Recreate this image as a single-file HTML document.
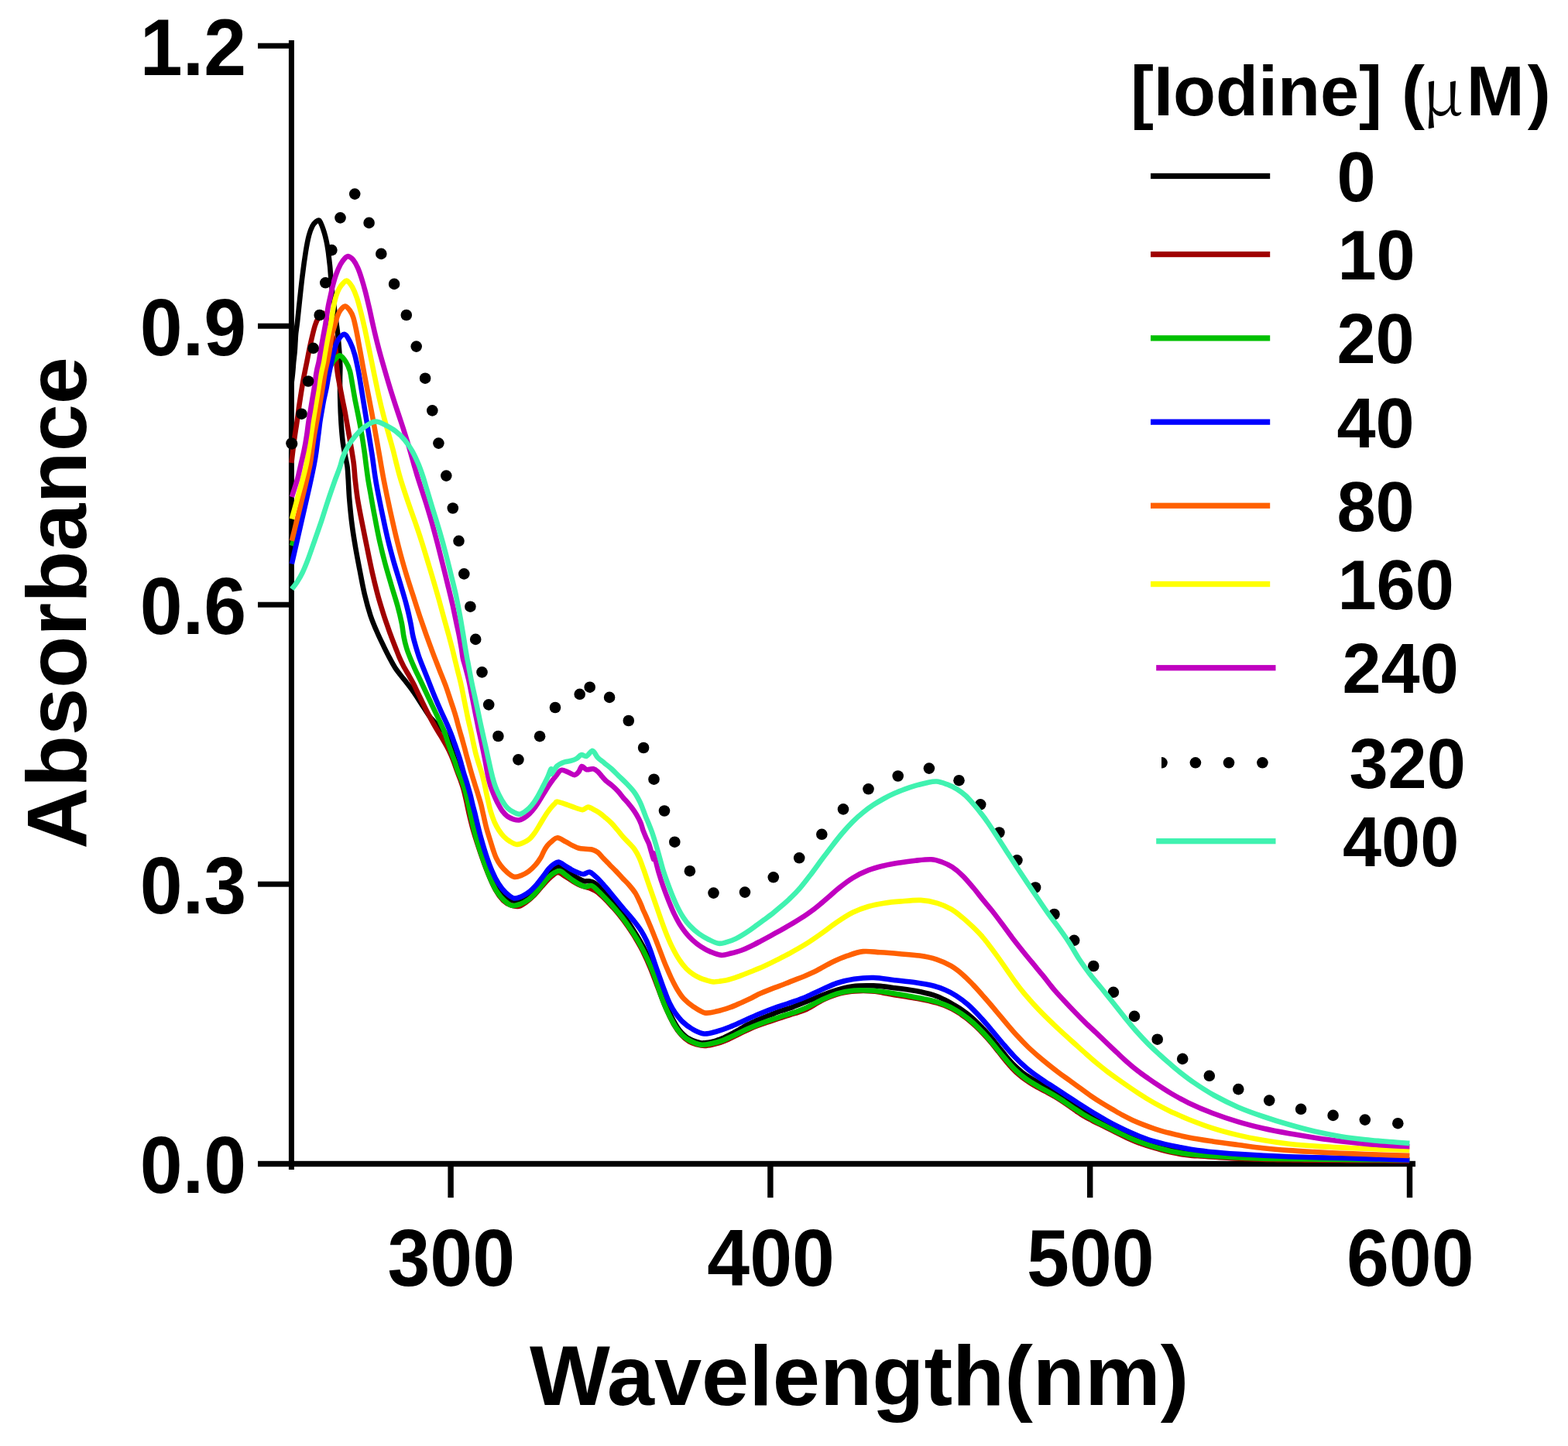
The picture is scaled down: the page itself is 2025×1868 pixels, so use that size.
<!DOCTYPE html>
<html><head><meta charset="utf-8"><style>
html,body{margin:0;padding:0;background:#fff;}
svg{display:block;}
text{font-family:"Liberation Sans",Arial,sans-serif;font-weight:bold;fill:#000;}
</style></head><body>
<svg width="2025" height="1868" viewBox="0 0 2025 1868" xmlns="http://www.w3.org/2000/svg">
<rect width="2025" height="1868" fill="#fff"/>
<g fill="#000"><rect x="372.9" y="52" width="7" height="1459"/><rect x="333" y="1499.8" width="1495" height="7.4"/><rect x="333" y="55.7" width="44" height="7"/><rect x="333" y="417.7" width="44" height="7"/><rect x="333" y="777.7" width="44" height="7"/><rect x="333" y="1138.7" width="44" height="7"/><rect x="333" y="1500.0" width="44" height="7"/><rect x="578.4" y="1500" width="7.4" height="47.2"/><rect x="991.2" y="1500" width="7.4" height="47.2"/><rect x="1404.0" y="1500" width="7.4" height="47.2"/><rect x="1816.8" y="1500" width="7.4" height="47.2"/></g>
<g font-size="103.3"><text transform="translate(318.0 96.5) scale(0.955 1)" text-anchor="end">1.2</text><text transform="translate(318.0 458.5) scale(0.955 1)" text-anchor="end">0.9</text><text transform="translate(318.0 818.5) scale(0.955 1)" text-anchor="end">0.6</text><text transform="translate(318.0 1179.5) scale(0.955 1)" text-anchor="end">0.3</text><text transform="translate(318.0 1540.8) scale(0.955 1)" text-anchor="end">0.0</text><text transform="translate(582.8 1660.6) scale(0.955 1)" text-anchor="middle">300</text><text transform="translate(995.6 1660.6) scale(0.955 1)" text-anchor="middle">400</text><text transform="translate(1408.4 1660.6) scale(0.955 1)" text-anchor="middle">500</text><text transform="translate(1821.2 1660.6) scale(0.955 1)" text-anchor="middle">600</text></g>
<text x="111.2" y="1096.7" font-size="110" transform="rotate(-90 111.2 1096.7)">Absorbance</text>
<text x="684" y="1814.7" font-size="110">Wavelength(nm)</text>
<g fill="none" stroke-width="6.6" stroke-linejoin="round" stroke-linecap="butt"><path d="M376.5 495.0 C376.8 492.7 377.7 485.6 378.1 481.1 C378.6 476.5 378.8 472.3 379.2 467.7 C379.7 463.1 380.3 458.1 380.7 453.6 C381.1 449.0 381.2 444.6 381.5 440.6 C381.7 436.7 381.8 434.2 382.2 430.0 C382.7 425.8 383.3 422.3 384.1 415.6 C384.8 408.9 385.7 399.7 386.8 389.8 C387.9 379.8 389.2 366.7 390.6 355.8 C391.9 345.0 393.5 333.5 394.9 324.7 C396.3 315.9 397.7 308.8 399.2 303.3 C400.7 297.8 402.2 294.5 403.6 291.7 C405.1 288.9 406.7 287.6 408.1 286.4 C409.6 285.3 411.0 283.9 412.2 284.7 C413.4 285.5 414.4 288.4 415.5 291.0 C416.6 293.6 417.7 297.0 418.7 300.3 C419.7 303.7 420.7 307.6 421.5 311.2 C422.3 314.8 422.9 318.4 423.4 322.0 C424.0 325.6 424.4 329.0 424.8 332.8 C425.3 336.6 425.7 340.5 426.2 345.0 C426.6 349.5 426.8 353.5 427.4 359.9 C428.0 366.2 428.8 374.6 429.8 383.0 C430.8 391.5 432.4 402.5 433.5 410.5 C434.6 418.6 435.4 424.3 436.2 431.2 C437.0 438.2 437.6 445.4 438.1 452.4 C438.7 459.3 439.2 466.7 439.3 473.2 C439.4 479.6 439.0 483.8 439.0 491.1 C439.0 498.5 439.0 508.1 439.3 517.4 C439.5 526.7 440.0 538.2 440.6 547.2 C441.2 556.2 441.9 564.5 442.8 571.5 C443.7 578.6 445.0 584.2 446.0 589.5 C446.9 594.8 448.0 598.2 448.6 603.3 C449.2 608.4 449.3 613.1 449.8 620.1 C450.2 627.2 450.5 636.0 451.3 645.6 C452.1 655.2 453.2 667.4 454.6 677.8 C455.9 688.2 457.6 698.4 459.3 708.2 C461.0 718.1 462.8 727.1 464.7 737.0 C466.6 746.8 468.5 757.8 470.8 767.4 C473.1 777.1 475.7 786.6 478.4 794.9 C481.2 803.3 484.4 810.7 487.4 817.5 C490.3 824.3 493.4 830.3 496.0 835.8 C498.7 841.3 501.0 845.9 503.4 850.4 C505.7 854.8 507.9 858.8 510.2 862.5 C512.6 866.2 515.2 869.3 517.5 872.4 C519.9 875.6 522.4 878.4 524.6 881.2 C526.9 884.1 528.9 886.7 531.0 889.6 C533.2 892.6 535.1 895.3 537.5 898.9 C539.9 902.5 542.5 906.8 545.5 911.3 C548.4 915.8 551.7 921.5 555.0 925.8 C558.3 930.0 561.9 933.5 565.0 936.8 C568.1 940.0 571.2 941.7 573.8 945.2 C576.2 948.7 578.1 953.0 580.0 957.7 C581.9 962.5 583.3 968.6 585.0 973.6 C586.7 978.6 588.3 983.5 590.0 987.7 C591.7 991.9 593.3 994.6 595.0 998.9 C596.7 1003.2 598.3 1007.7 600.0 1013.7 C601.7 1019.6 603.3 1027.4 605.0 1034.6 C606.7 1041.8 608.3 1049.7 610.0 1056.7 C611.7 1063.7 613.3 1070.5 615.0 1076.6 C616.7 1082.6 618.3 1088.0 620.0 1093.2 C621.7 1098.4 623.3 1103.1 625.0 1107.8 C626.7 1112.5 628.3 1117.0 630.0 1121.2 C631.7 1125.4 633.3 1129.5 635.0 1133.2 C636.7 1136.9 638.3 1140.4 640.0 1143.4 C641.7 1146.5 643.3 1149.1 645.0 1151.4 C646.7 1153.7 648.3 1155.6 650.0 1157.2 C651.7 1158.7 653.3 1159.8 655.0 1160.8 C656.7 1161.7 658.3 1162.3 660.0 1162.8 C661.7 1163.3 663.3 1163.6 665.0 1163.7 C666.7 1163.7 668.3 1163.4 670.0 1163.0 C671.7 1162.6 673.3 1162.0 675.0 1161.3 C676.7 1160.5 678.3 1159.6 680.0 1158.4 C681.7 1157.3 683.3 1156.1 685.0 1154.6 C686.7 1153.1 688.3 1151.5 690.0 1149.7 C691.7 1147.9 693.3 1145.9 695.0 1143.8 C696.7 1141.7 698.3 1139.5 700.0 1137.3 C701.7 1135.1 703.3 1132.8 705.0 1130.8 C706.7 1128.8 708.3 1126.7 710.0 1125.2 C711.7 1123.6 713.3 1122.4 715.0 1121.4 C716.7 1120.4 718.3 1119.3 720.0 1119.2 C721.7 1119.0 723.3 1119.8 725.0 1120.4 C726.7 1121.1 728.3 1122.1 730.0 1123.2 C731.7 1124.2 733.3 1125.6 735.0 1126.9 C736.7 1128.1 738.3 1129.5 740.0 1130.7 C741.7 1131.8 743.3 1132.9 745.0 1133.9 C746.7 1134.9 748.3 1135.7 750.0 1136.4 C751.7 1137.2 753.3 1138.1 755.0 1138.4 C756.7 1138.7 758.3 1138.1 760.0 1138.2 C761.7 1138.4 763.3 1138.6 765.0 1139.3 C766.7 1140.0 768.3 1141.0 770.0 1142.4 C771.7 1143.7 773.3 1145.5 775.0 1147.2 C776.7 1149.0 778.3 1150.9 780.0 1152.8 C781.7 1154.6 783.3 1156.4 785.0 1158.2 C786.7 1160.0 788.3 1161.7 790.0 1163.6 C791.7 1165.5 793.3 1167.4 795.0 1169.4 C796.7 1171.3 798.3 1173.4 800.0 1175.5 C801.7 1177.6 803.3 1179.8 805.0 1182.1 C806.7 1184.3 808.3 1186.7 810.0 1189.1 C811.7 1191.6 813.3 1194.1 815.0 1196.7 C816.7 1199.3 818.3 1202.0 820.0 1204.7 C821.7 1207.4 823.3 1210.1 825.0 1213.0 C826.7 1215.9 828.3 1218.7 830.0 1221.9 C831.7 1225.1 833.3 1228.6 835.0 1232.3 C836.7 1235.9 838.3 1239.9 840.0 1244.0 C841.7 1248.2 843.3 1252.5 845.0 1257.1 C846.7 1261.6 848.3 1266.6 850.0 1271.4 C851.7 1276.2 853.3 1281.4 855.0 1285.9 C856.7 1290.3 858.3 1294.5 860.0 1298.4 C861.7 1302.3 863.3 1305.7 865.0 1309.1 C866.7 1312.6 868.3 1315.9 870.0 1318.9 C871.7 1322.0 873.3 1324.9 875.0 1327.3 C876.7 1329.8 878.3 1331.9 880.0 1333.8 C881.7 1335.6 883.3 1337.1 885.0 1338.5 C886.7 1339.8 888.3 1341.0 890.0 1341.9 C891.7 1342.9 893.3 1343.7 895.0 1344.4 C896.7 1345.1 898.3 1345.5 900.0 1346.0 C901.7 1346.5 903.3 1347.2 905.0 1347.4 C906.7 1347.6 908.3 1347.4 910.0 1347.3 C911.7 1347.2 913.3 1347.0 915.0 1346.8 C916.7 1346.5 918.3 1346.2 920.0 1345.8 C921.7 1345.4 923.3 1344.9 925.0 1344.3 C926.7 1343.8 928.3 1343.2 930.0 1342.6 C931.7 1341.9 933.3 1341.2 935.0 1340.5 C936.7 1339.7 938.3 1338.8 940.0 1338.0 C941.7 1337.2 943.3 1336.3 945.0 1335.4 C946.7 1334.5 948.3 1333.6 950.0 1332.7 C951.7 1331.7 953.3 1330.7 955.0 1329.8 C956.7 1328.8 958.3 1327.8 960.0 1326.8 C961.7 1325.9 963.3 1324.9 965.0 1324.0 C966.7 1323.2 968.3 1322.4 970.0 1321.6 C971.7 1320.8 973.3 1320.0 975.0 1319.3 C976.7 1318.5 978.3 1317.8 980.0 1317.1 C981.7 1316.3 983.3 1315.7 985.0 1315.0 C986.7 1314.3 988.3 1313.7 990.0 1313.0 C991.7 1312.4 993.3 1311.7 995.0 1311.1 C996.7 1310.4 998.3 1309.8 1000.0 1309.1 C1001.7 1308.5 1003.1 1307.8 1005.0 1307.2 C1006.9 1306.5 1008.0 1306.2 1011.2 1305.1 C1014.5 1304.1 1018.3 1303.0 1024.3 1300.8 C1030.2 1298.5 1038.8 1295.0 1047.1 1291.7 C1055.4 1288.4 1065.1 1284.0 1074.1 1281.1 C1083.1 1278.1 1092.2 1275.5 1101.2 1274.3 C1110.2 1273.0 1119.2 1273.1 1128.2 1273.4 C1137.2 1273.7 1146.3 1275.0 1155.3 1276.2 C1164.3 1277.3 1174.0 1278.5 1182.3 1280.0 C1190.7 1281.6 1199.0 1283.5 1205.3 1285.4 C1211.5 1287.3 1215.7 1289.5 1219.8 1291.5 C1224.0 1293.5 1226.6 1295.2 1230.0 1297.1 C1233.4 1299.1 1236.7 1300.9 1240.0 1303.1 C1243.3 1305.4 1246.7 1307.7 1250.0 1310.4 C1253.3 1313.1 1256.7 1316.1 1260.0 1319.2 C1263.3 1322.3 1266.7 1325.7 1270.0 1329.2 C1273.3 1332.8 1276.7 1336.5 1280.0 1340.4 C1283.3 1344.4 1286.7 1348.7 1290.0 1352.8 C1293.3 1356.9 1296.7 1361.4 1300.0 1365.3 C1303.3 1369.2 1306.7 1373.1 1310.0 1376.4 C1313.3 1379.7 1316.7 1382.5 1320.0 1385.2 C1323.3 1387.8 1326.7 1390.0 1330.0 1392.1 C1333.3 1394.3 1336.7 1396.2 1340.0 1398.1 C1343.3 1400.0 1346.7 1401.6 1350.0 1403.4 C1353.3 1405.2 1356.7 1407.0 1360.0 1408.9 C1363.3 1410.9 1366.7 1412.9 1370.0 1415.1 C1373.3 1417.3 1376.7 1419.6 1380.0 1421.9 C1383.3 1424.2 1386.7 1426.6 1390.0 1428.9 C1393.3 1431.1 1396.7 1433.4 1400.0 1435.4 C1403.3 1437.4 1406.7 1439.1 1410.0 1440.8 C1413.3 1442.6 1416.7 1444.2 1420.0 1445.9 C1423.3 1447.5 1426.7 1449.2 1430.0 1450.9 C1433.3 1452.5 1436.7 1454.2 1440.0 1455.9 C1443.3 1457.5 1446.7 1459.2 1450.0 1460.8 C1453.3 1462.5 1456.7 1464.1 1460.0 1465.5 C1463.3 1467.0 1466.7 1468.4 1470.0 1469.6 C1473.3 1470.9 1476.7 1472.0 1480.0 1473.1 C1483.3 1474.2 1486.7 1475.2 1490.0 1476.2 C1493.3 1477.2 1496.7 1478.2 1500.0 1479.1 C1503.3 1480.0 1506.7 1480.9 1510.0 1481.7 C1513.3 1482.5 1516.7 1483.3 1520.0 1484.0 C1523.3 1484.7 1526.7 1485.4 1530.0 1485.9 C1533.3 1486.5 1536.7 1486.9 1540.0 1487.4 C1543.3 1487.8 1546.7 1488.1 1550.0 1488.4 C1553.3 1488.7 1556.7 1489.0 1560.0 1489.3 C1563.3 1489.6 1566.7 1489.9 1570.0 1490.2 C1573.3 1490.5 1576.7 1490.8 1580.0 1491.1 C1583.3 1491.3 1586.7 1491.6 1590.0 1491.9 C1593.3 1492.1 1596.7 1492.4 1600.0 1492.6 C1603.3 1492.8 1606.7 1493.0 1610.0 1493.2 C1613.3 1493.4 1616.7 1493.6 1620.0 1493.8 C1623.3 1494.0 1626.7 1494.1 1630.0 1494.3 C1633.3 1494.4 1636.7 1494.6 1640.0 1494.7 C1643.3 1494.8 1646.7 1495.0 1650.0 1495.1 C1653.3 1495.2 1656.7 1495.3 1660.0 1495.4 C1663.3 1495.5 1666.7 1495.7 1670.0 1495.8 C1673.3 1495.9 1676.7 1496.0 1680.0 1496.1 C1683.3 1496.2 1686.7 1496.3 1690.0 1496.4 C1693.3 1496.5 1696.7 1496.5 1700.0 1496.6 C1703.3 1496.6 1706.7 1496.6 1710.0 1496.7 C1713.3 1496.7 1716.7 1496.7 1720.0 1496.7 C1723.3 1496.8 1726.7 1496.8 1730.0 1496.8 C1733.3 1496.8 1736.7 1496.8 1740.0 1496.9 C1743.3 1496.9 1746.7 1496.9 1750.0 1496.9 C1753.3 1497.0 1756.7 1497.0 1760.0 1497.0 C1763.3 1497.0 1766.7 1497.0 1770.0 1497.0 C1773.3 1497.1 1776.7 1497.1 1780.0 1497.1 C1783.3 1497.1 1786.7 1497.1 1790.0 1497.1 C1793.3 1497.2 1796.7 1497.2 1800.0 1497.2 C1803.3 1497.2 1806.7 1497.2 1810.0 1497.2 C1813.3 1497.3 1818.3 1497.3 1820.0 1497.3" stroke="#000000"/><path d="M376.4 598.0 C376.8 594.2 378.3 581.8 379.1 575.4 C379.9 569.1 380.5 564.5 381.2 560.0 C381.8 555.5 382.4 552.5 383.0 548.5 C383.6 544.4 384.0 541.2 384.8 535.8 C385.5 530.3 386.4 523.2 387.6 515.9 C388.7 508.6 390.1 499.8 391.5 491.8 C392.9 483.9 394.5 476.3 396.2 468.1 C397.8 459.8 399.6 450.1 401.4 442.2 C403.2 434.3 405.1 426.1 406.8 420.6 C408.5 415.1 410.3 411.8 411.8 409.1 C413.3 406.5 414.8 405.0 416.0 404.5 C417.2 404.0 418.0 405.0 419.0 406.1 C420.0 407.2 421.0 408.8 422.0 411.2 C423.0 413.7 424.1 417.2 425.2 420.8 C426.4 424.3 427.7 428.8 428.9 432.8 C430.1 436.7 431.5 440.8 432.4 444.5 C433.2 448.2 433.6 451.1 433.9 454.9 C434.3 458.6 434.0 462.5 434.3 467.2 C434.6 471.8 435.3 477.9 436.0 482.8 C436.7 487.6 437.6 492.1 438.4 496.3 C439.2 500.6 440.0 504.3 440.8 508.2 C441.5 512.2 442.3 516.2 443.1 520.2 C443.9 524.1 444.6 527.0 445.5 532.0 C446.5 537.0 447.4 543.1 448.7 550.1 C449.9 557.2 451.6 566.3 452.9 574.2 C454.3 582.2 455.7 590.4 456.7 598.0 C457.7 605.6 457.9 612.1 458.7 619.8 C459.6 627.4 460.3 634.8 461.7 643.9 C463.2 653.0 465.3 663.7 467.4 674.4 C469.5 685.1 471.9 697.2 474.2 708.2 C476.4 719.2 478.6 730.2 480.9 740.3 C483.2 750.5 485.5 759.9 488.0 769.1 C490.5 778.3 493.4 787.4 496.0 795.8 C498.7 804.1 501.7 812.4 504.1 819.2 C506.6 826.1 508.9 831.8 510.8 836.7 C512.7 841.6 514.0 845.1 515.6 848.9 C517.2 852.6 518.6 855.7 520.5 859.3 C522.3 862.9 524.7 866.8 527.0 870.7 C529.2 874.7 531.7 878.8 533.9 883.0 C536.1 887.2 538.0 891.6 540.1 896.0 C542.3 900.3 544.4 904.8 546.5 909.2 C548.6 913.6 550.8 918.0 553.0 922.2 C555.2 926.4 557.4 930.6 559.5 934.4 C561.6 938.2 563.6 941.5 565.7 944.9 C567.7 948.3 569.7 951.4 571.7 954.8 C573.7 958.2 575.8 961.9 577.6 965.3 C579.4 968.7 580.9 971.8 582.4 975.1 C583.9 978.4 585.1 981.5 586.4 985.0 C587.7 988.6 589.1 992.8 590.4 996.5 C591.7 1000.2 593.1 1003.2 594.4 1007.0 C595.7 1010.7 597.1 1014.2 598.4 1019.0 C599.7 1023.8 601.1 1029.8 602.4 1035.6 C603.7 1041.4 604.8 1047.4 606.4 1054.0 C608.0 1060.5 609.5 1067.0 611.8 1074.8 C614.1 1082.6 617.1 1091.8 620.1 1100.6 C623.1 1109.5 626.7 1119.5 630.0 1127.7 C633.3 1135.8 636.7 1143.6 640.0 1149.6 C643.3 1155.6 646.7 1160.1 650.0 1163.5 C653.3 1166.8 656.7 1168.3 660.0 1169.5 C663.3 1170.7 666.7 1171.6 670.0 1170.8 C673.3 1170.1 676.7 1167.5 680.0 1165.1 C683.3 1162.8 686.7 1159.8 690.0 1156.5 C693.3 1153.1 696.7 1148.6 700.0 1144.9 C703.3 1141.1 706.7 1137.1 710.0 1134.2 C713.3 1131.2 716.7 1127.4 720.0 1127.1 C723.3 1126.7 726.7 1130.2 730.0 1132.1 C733.3 1134.0 736.7 1136.7 740.0 1138.6 C743.3 1140.6 746.7 1142.5 750.0 1143.9 C753.3 1145.3 756.7 1145.6 760.0 1146.9 C763.3 1148.1 766.7 1149.3 770.0 1151.5 C773.3 1153.7 776.7 1156.9 780.0 1160.1 C783.3 1163.3 786.7 1167.0 790.0 1170.7 C793.3 1174.4 796.7 1178.1 800.0 1182.3 C803.3 1186.4 806.7 1190.9 810.0 1195.6 C813.3 1200.4 816.7 1205.3 820.0 1210.8 C823.3 1216.3 826.7 1221.9 830.0 1228.5 C833.3 1235.2 836.7 1242.7 840.0 1250.8 C843.3 1258.8 846.7 1268.3 850.0 1276.9 C853.3 1285.5 856.7 1294.8 860.0 1302.5 C863.3 1310.2 866.7 1317.2 870.0 1323.0 C873.3 1328.8 876.7 1333.4 880.0 1337.1 C883.3 1340.9 886.7 1343.4 890.0 1345.4 C893.3 1347.4 896.7 1348.3 900.0 1349.3 C903.3 1350.2 906.7 1350.8 910.0 1350.9 C913.3 1350.9 916.7 1350.2 920.0 1349.5 C923.3 1348.8 926.7 1348.0 930.0 1346.9 C933.3 1345.7 936.7 1344.3 940.0 1342.9 C943.3 1341.4 946.7 1339.7 950.0 1338.1 C953.3 1336.5 956.7 1334.7 960.0 1333.1 C963.3 1331.5 966.7 1329.9 970.0 1328.4 C973.3 1327.0 976.7 1325.7 980.0 1324.4 C983.3 1323.2 986.7 1322.1 990.0 1320.9 C993.3 1319.8 996.7 1318.7 1000.0 1317.6 C1003.3 1316.5 1006.7 1315.4 1010.0 1314.3 C1013.3 1313.2 1016.7 1312.0 1020.0 1311.0 C1023.3 1309.9 1026.7 1309.0 1030.0 1308.0 C1033.3 1306.9 1036.7 1306.0 1040.0 1304.5 C1043.3 1303.0 1046.7 1301.0 1050.0 1299.1 C1053.3 1297.2 1056.7 1294.9 1060.0 1293.2 C1063.3 1291.4 1066.7 1289.9 1070.0 1288.5 C1073.3 1287.1 1076.7 1285.9 1080.0 1284.9 C1083.3 1283.9 1086.7 1283.0 1090.0 1282.3 C1093.3 1281.6 1096.7 1281.1 1100.0 1280.7 C1103.3 1280.3 1106.7 1280.2 1110.0 1280.1 C1113.3 1280.0 1116.7 1280.0 1120.0 1280.1 C1123.3 1280.2 1126.7 1280.4 1130.0 1280.8 C1133.3 1281.1 1136.7 1281.8 1140.0 1282.4 C1143.3 1282.9 1146.7 1283.7 1150.0 1284.3 C1153.3 1284.9 1156.7 1285.5 1160.0 1286.1 C1163.3 1286.6 1166.7 1287.1 1170.0 1287.6 C1173.3 1288.2 1176.7 1288.7 1180.0 1289.2 C1183.3 1289.8 1186.7 1290.4 1190.0 1291.0 C1193.3 1291.7 1196.7 1292.4 1200.0 1293.1 C1203.3 1293.9 1206.7 1294.7 1210.0 1295.6 C1213.3 1296.6 1216.7 1297.6 1220.0 1298.9 C1223.3 1300.3 1226.7 1301.9 1230.0 1303.6 C1233.3 1305.4 1236.7 1307.4 1240.0 1309.6 C1243.3 1311.9 1246.7 1314.2 1250.0 1316.9 C1253.3 1319.6 1256.7 1322.6 1260.0 1325.7 C1263.3 1328.8 1266.7 1332.2 1270.0 1335.7 C1273.3 1339.3 1276.7 1343.0 1280.0 1346.9 C1283.3 1350.9 1286.7 1355.2 1290.0 1359.3 C1293.3 1363.4 1296.7 1367.9 1300.0 1371.8 C1303.3 1375.7 1306.7 1379.6 1310.0 1382.9 C1313.3 1386.2 1316.7 1389.0 1320.0 1391.7 C1323.3 1394.3 1326.7 1396.5 1330.0 1398.6 C1333.3 1400.8 1336.7 1402.7 1340.0 1404.6 C1343.3 1406.5 1346.7 1408.1 1350.0 1409.9 C1353.3 1411.7 1356.7 1413.5 1360.0 1415.4 C1363.3 1417.4 1366.7 1419.4 1370.0 1421.6 C1373.3 1423.8 1376.7 1426.1 1380.0 1428.4 C1383.3 1430.7 1386.7 1433.1 1390.0 1435.4 C1393.3 1437.6 1396.7 1439.9 1400.0 1441.9 C1403.3 1443.9 1406.7 1445.6 1410.0 1447.3 C1413.3 1449.1 1416.7 1450.7 1420.0 1452.4 C1423.3 1454.0 1426.7 1455.7 1430.0 1457.4 C1433.3 1459.0 1436.7 1460.7 1440.0 1462.4 C1443.3 1464.0 1446.7 1465.7 1450.0 1467.3 C1453.3 1469.0 1456.7 1470.6 1460.0 1472.0 C1463.3 1473.5 1466.7 1474.9 1470.0 1476.1 C1473.3 1477.4 1476.7 1478.5 1480.0 1479.6 C1483.3 1480.7 1486.7 1481.7 1490.0 1482.7 C1493.3 1483.7 1496.7 1484.7 1500.0 1485.6 C1503.3 1486.5 1506.7 1487.3 1510.0 1488.0 C1513.3 1488.8 1516.7 1489.5 1520.0 1490.1 C1523.3 1490.7 1526.7 1491.4 1530.0 1491.8 C1533.3 1492.3 1536.7 1492.6 1540.0 1492.9 C1543.3 1493.2 1546.7 1493.3 1550.0 1493.5 C1553.3 1493.7 1556.7 1493.9 1560.0 1494.1 C1563.3 1494.4 1566.7 1494.6 1570.0 1494.8 C1573.3 1495.0 1576.7 1495.3 1580.0 1495.5 C1583.3 1495.7 1586.7 1495.9 1590.0 1496.1 C1593.3 1496.2 1596.7 1496.4 1600.0 1496.6 C1603.3 1496.7 1606.7 1496.9 1610.0 1497.0 C1613.3 1497.1 1616.7 1497.3 1620.0 1497.4 C1623.3 1497.5 1626.7 1497.6 1630.0 1497.7 C1633.3 1497.8 1636.7 1497.9 1640.0 1497.9 C1643.3 1498.0 1646.7 1498.0 1650.0 1498.1 C1653.3 1498.1 1656.7 1498.2 1660.0 1498.2 C1663.3 1498.3 1666.7 1498.3 1670.0 1498.4 C1673.3 1498.4 1676.7 1498.5 1680.0 1498.5 C1683.3 1498.6 1686.7 1498.6 1690.0 1498.7 C1693.3 1498.7 1696.7 1498.7 1700.0 1498.8 C1703.3 1498.8 1706.7 1498.8 1710.0 1498.9 C1713.3 1498.9 1716.7 1498.9 1720.0 1498.9 C1723.3 1499.0 1726.7 1499.0 1730.0 1499.0 C1733.3 1499.0 1736.7 1499.0 1740.0 1499.1 C1743.3 1499.1 1746.7 1499.1 1750.0 1499.1 C1753.3 1499.2 1756.7 1499.2 1760.0 1499.2 C1763.3 1499.2 1766.7 1499.2 1770.0 1499.2 C1773.3 1499.3 1776.7 1499.3 1780.0 1499.3 C1783.3 1499.3 1786.7 1499.3 1790.0 1499.3 C1793.3 1499.4 1796.7 1499.4 1800.0 1499.4 C1803.3 1499.4 1806.7 1499.4 1810.0 1499.4 C1813.3 1499.5 1818.3 1499.5 1820.0 1499.5" stroke="#A00000"/><path d="M376.8 705.0 C377.6 702.5 380.3 695.0 381.8 690.0 C383.4 685.0 384.6 680.0 385.9 675.0 C387.2 670.0 388.3 665.0 389.5 660.0 C390.7 655.0 391.8 650.0 393.0 645.0 C394.2 640.0 395.4 635.0 396.6 630.0 C397.8 625.0 399.0 620.0 400.1 615.0 C401.2 610.0 402.2 605.0 403.0 600.0 C403.9 595.0 404.6 590.0 405.3 585.0 C406.1 580.0 406.8 575.0 407.5 570.0 C408.3 565.0 409.0 560.0 409.8 555.0 C410.5 550.0 411.4 545.0 412.2 540.0 C413.0 535.0 413.9 530.0 414.8 525.0 C415.7 520.0 416.6 515.0 417.5 510.0 C418.3 505.0 419.1 499.9 420.1 495.0 C421.2 490.1 422.3 485.0 423.7 480.8 C425.1 476.5 426.8 472.6 428.5 469.8 C430.1 466.9 431.6 465.1 433.4 463.4 C435.3 461.7 437.1 458.8 439.3 459.5 C441.5 460.2 444.6 464.2 446.7 467.5 C448.8 470.8 450.5 474.5 451.9 479.3 C453.2 484.1 453.9 490.2 455.1 496.6 C456.2 503.0 457.4 510.3 458.7 517.4 C460.1 524.5 461.7 531.8 463.1 539.0 C464.5 546.2 465.9 553.6 467.1 560.7 C468.3 567.7 469.4 574.7 470.3 581.3 C471.3 588.0 472.0 594.4 472.8 600.6 C473.6 606.8 474.3 612.1 475.2 618.5 C476.2 624.8 477.3 630.6 478.8 638.8 C480.2 647.0 482.0 657.5 484.0 667.6 C485.9 677.8 488.1 689.6 490.4 699.8 C492.7 709.9 495.0 719.2 497.5 728.5 C500.0 737.8 502.7 746.6 505.3 755.6 C507.9 764.6 511.1 774.3 513.4 782.6 C515.7 790.9 517.6 798.9 518.9 805.5 C520.2 812.1 520.4 817.1 521.5 822.5 C522.5 827.9 523.8 833.0 525.2 837.6 C526.6 842.3 528.2 846.0 529.8 850.2 C531.5 854.4 533.0 857.8 535.2 862.8 C537.5 867.8 540.5 873.9 543.4 880.0 C546.3 886.1 549.6 893.0 552.6 899.5 C555.7 906.0 558.9 913.0 561.8 919.0 C564.6 925.0 567.5 930.7 569.6 935.4 C571.8 940.1 573.1 942.9 574.6 947.0 C576.1 951.0 577.1 955.3 578.6 959.8 C580.1 964.2 582.1 969.6 583.6 973.8 C585.1 977.9 586.4 981.2 587.7 984.7 C588.9 988.2 589.5 991.1 590.8 994.7 C592.1 998.3 593.8 1001.6 595.5 1006.2 C597.1 1010.9 599.3 1016.5 600.9 1022.5 C602.6 1028.5 604.0 1035.5 605.5 1042.0 C606.9 1048.5 608.1 1055.0 609.6 1061.5 C611.1 1068.0 612.7 1074.4 614.5 1081.0 C616.3 1087.6 618.4 1094.4 620.6 1100.9 C622.7 1107.4 625.1 1114.1 627.3 1120.2 C629.6 1126.2 631.7 1131.8 634.1 1137.1 C636.5 1142.3 638.8 1147.3 641.5 1151.6 C644.3 1155.9 647.4 1159.8 650.7 1162.8 C653.9 1165.8 657.6 1169.1 661.2 1169.9 C664.8 1170.7 668.5 1169.1 672.0 1167.8 C675.5 1166.6 679.1 1164.7 682.5 1162.2 C685.8 1159.8 689.0 1156.5 691.9 1153.3 C694.9 1150.0 697.6 1146.1 700.4 1142.8 C703.2 1139.5 705.9 1135.8 708.5 1133.2 C711.1 1130.6 713.8 1128.6 716.3 1127.2 C718.8 1125.9 720.9 1124.6 723.4 1125.2 C725.9 1125.8 728.8 1129.0 731.5 1130.9 C734.2 1132.9 736.9 1135.2 739.6 1137.0 C742.3 1138.9 745.0 1140.7 747.7 1142.1 C750.4 1143.5 753.2 1145.2 755.9 1145.5 C758.6 1145.8 761.3 1143.4 764.0 1144.2 C766.7 1145.0 769.3 1148.1 772.1 1150.6 C774.9 1153.1 777.6 1156.0 780.5 1159.0 C783.5 1162.1 786.6 1165.4 789.7 1168.8 C792.8 1172.3 796.1 1175.9 799.2 1179.7 C802.3 1183.4 805.4 1187.5 808.3 1191.5 C811.1 1195.5 813.7 1199.3 816.4 1203.3 C819.0 1207.4 821.5 1211.3 824.2 1215.8 C826.8 1220.4 829.8 1225.8 832.2 1230.7 C834.7 1235.6 837.0 1240.9 838.8 1245.0 C840.6 1249.1 841.8 1252.2 843.0 1255.2 C844.2 1258.3 845.0 1260.6 846.0 1263.3 C846.9 1266.1 847.8 1268.7 848.7 1271.4 C849.6 1274.2 850.4 1276.8 851.5 1279.8 C852.5 1282.9 853.5 1286.1 854.9 1289.8 C856.3 1293.5 858.0 1297.7 859.8 1301.9 C861.7 1306.1 863.8 1310.7 866.0 1314.9 C868.2 1319.1 870.4 1323.5 873.0 1327.4 C875.6 1331.2 878.4 1334.9 881.6 1337.9 C884.9 1340.9 888.6 1343.3 892.5 1345.2 C896.3 1347.2 900.6 1349.1 904.9 1349.6 C909.2 1350.1 913.6 1349.1 918.2 1348.2 C922.8 1347.3 927.5 1346.1 932.5 1344.3 C937.5 1342.5 942.9 1339.9 948.2 1337.4 C953.5 1334.9 959.1 1332.0 964.5 1329.5 C969.9 1327.1 975.3 1324.9 980.7 1322.8 C986.1 1320.7 991.6 1318.9 997.0 1317.1 C1002.4 1315.3 1008.0 1313.4 1013.2 1311.7 C1018.4 1310.0 1023.1 1308.8 1028.0 1307.1 C1032.9 1305.4 1037.1 1303.8 1042.5 1301.3 C1047.9 1298.8 1054.1 1295.0 1060.5 1292.0 C1066.9 1289.1 1073.8 1285.7 1080.9 1283.6 C1088.0 1281.5 1095.0 1280.2 1102.9 1279.5 C1110.8 1278.9 1119.5 1279.2 1128.2 1279.8 C1137.0 1280.5 1146.5 1282.2 1155.3 1283.6 C1164.0 1284.9 1172.9 1286.5 1180.6 1288.0 C1188.4 1289.4 1195.4 1290.6 1201.9 1292.2 C1208.3 1293.8 1213.9 1295.4 1219.4 1297.6 C1224.9 1299.7 1229.9 1302.1 1235.0 1305.2 C1240.1 1308.2 1245.0 1311.7 1250.0 1315.7 C1255.0 1319.6 1259.9 1324.1 1264.9 1329.1 C1269.9 1334.1 1274.9 1339.8 1279.9 1345.6 C1284.9 1351.4 1289.9 1358.1 1294.9 1363.9 C1299.9 1369.8 1304.9 1375.9 1309.9 1380.8 C1314.9 1385.7 1319.8 1389.8 1324.8 1393.5 C1329.8 1397.2 1334.8 1399.9 1339.8 1402.8 C1344.8 1405.8 1349.8 1408.2 1354.8 1411.1 C1359.8 1413.9 1364.8 1416.9 1369.8 1420.1 C1374.8 1423.3 1379.7 1426.9 1384.7 1430.2 C1389.7 1433.5 1394.7 1437.0 1399.7 1440.0 C1404.7 1443.0 1409.7 1445.6 1414.7 1448.2 C1419.7 1450.8 1424.7 1453.2 1429.7 1455.7 C1434.7 1458.2 1439.6 1460.8 1444.6 1463.2 C1449.6 1465.6 1454.6 1468.1 1459.6 1470.2 C1464.6 1472.4 1469.6 1474.4 1474.6 1476.2 C1479.6 1478.0 1484.6 1479.6 1489.6 1481.1 C1494.6 1482.6 1499.7 1484.0 1504.7 1485.2 C1509.7 1486.5 1513.8 1487.5 1519.4 1488.5 C1524.9 1489.5 1530.2 1490.3 1537.9 1491.1 C1545.7 1491.9 1555.7 1492.8 1565.9 1493.5 C1576.0 1494.2 1587.8 1494.9 1598.8 1495.4 C1609.8 1495.9 1620.7 1496.3 1631.8 1496.6 C1642.9 1496.9 1652.9 1497.1 1665.3 1497.3 C1677.7 1497.5 1690.4 1497.6 1706.2 1497.8 C1722.0 1497.9 1741.1 1498.1 1760.1 1498.2 C1779.1 1498.3 1810.4 1498.4 1820.4 1498.5" stroke="#00C000"/><path d="M376.8 728.5 C380.2 713.7 392.3 661.1 397.1 639.8 C402.0 618.4 403.7 609.9 405.6 600.3 C407.5 590.7 407.7 588.5 408.6 582.2 C409.5 575.9 410.3 568.4 411.1 562.4 C411.9 556.4 412.4 551.3 413.1 546.0 C413.9 540.8 414.8 535.8 415.7 530.6 C416.6 525.5 417.5 520.1 418.5 515.2 C419.5 510.3 420.7 505.7 421.6 501.1 C422.5 496.5 423.0 492.9 423.9 487.8 C424.9 482.6 426.1 476.5 427.4 470.5 C428.7 464.5 430.3 456.9 431.8 451.8 C433.3 446.7 434.1 443.2 436.2 439.9 C438.4 436.6 442.1 431.6 444.7 431.9 C447.3 432.2 449.8 437.2 452.0 441.6 C454.2 446.1 456.4 451.9 458.2 458.4 C460.0 465.0 461.5 472.8 463.1 480.9 C464.6 488.9 465.9 497.6 467.4 506.6 C468.9 515.6 470.4 525.3 472.0 535.0 C473.6 544.7 475.4 555.9 476.9 564.8 C478.3 573.6 479.6 581.7 480.6 588.1 C481.6 594.5 482.0 598.2 482.7 603.3 C483.4 608.4 483.9 612.5 484.9 618.5 C485.8 624.4 487.0 630.6 488.6 638.8 C490.3 647.0 492.3 657.5 494.5 667.6 C496.6 677.8 499.1 689.6 501.6 699.8 C504.0 709.9 506.7 719.2 509.3 728.5 C512.0 737.8 514.8 746.6 517.5 755.6 C520.1 764.6 523.1 774.3 525.2 782.6 C527.4 790.9 529.1 799.0 530.4 805.5 C531.7 812.0 532.2 816.5 533.3 821.5 C534.4 826.5 535.8 831.1 537.1 835.6 C538.4 840.1 539.6 844.0 541.0 848.2 C542.5 852.4 543.8 855.6 545.8 860.8 C547.8 865.9 550.5 872.5 553.1 879.0 C555.6 885.5 558.5 892.8 561.2 899.5 C564.0 906.2 566.9 912.8 569.7 919.0 C572.5 925.2 575.6 931.6 577.9 936.8 C580.1 941.9 581.8 946.0 583.2 949.7 C584.7 953.4 585.4 955.9 586.5 959.0 C587.6 962.0 588.7 965.0 589.8 968.2 C590.9 971.4 592.1 974.9 593.2 978.2 C594.2 981.5 595.2 984.8 596.1 988.1 C597.1 991.4 597.6 994.2 598.8 998.1 C599.9 1001.9 601.5 1006.5 603.0 1011.3 C604.4 1016.2 606.2 1022.4 607.5 1027.2 C608.7 1032.0 609.5 1036.1 610.5 1039.9 C611.5 1043.7 612.4 1046.7 613.2 1050.1 C614.0 1053.4 614.8 1056.8 615.6 1060.2 C616.4 1063.5 616.9 1066.2 618.0 1070.2 C619.0 1074.2 620.0 1078.4 621.6 1084.0 C623.2 1089.7 625.4 1097.4 627.7 1104.2 C630.0 1111.1 632.8 1119.0 635.5 1125.2 C638.2 1131.5 641.0 1137.1 644.0 1141.8 C646.9 1146.5 650.1 1150.2 653.4 1153.3 C656.8 1156.4 660.4 1159.7 663.9 1160.4 C667.4 1161.1 671.0 1159.1 674.4 1157.7 C677.8 1156.2 681.0 1154.1 684.2 1151.6 C687.3 1149.1 690.4 1145.7 693.3 1142.5 C696.2 1139.2 698.9 1135.3 701.4 1132.0 C704.0 1128.7 706.2 1125.0 708.5 1122.4 C710.8 1119.8 713.0 1117.7 715.3 1116.3 C717.5 1114.8 719.5 1113.3 722.0 1113.7 C724.5 1114.1 727.5 1117.0 730.2 1118.7 C732.9 1120.3 735.7 1122.1 738.3 1123.6 C741.0 1125.0 743.6 1126.3 746.1 1127.2 C748.6 1128.2 750.7 1129.4 753.2 1129.3 C755.7 1129.2 758.8 1126.3 761.3 1126.6 C763.8 1126.9 765.8 1129.4 768.0 1131.3 C770.3 1133.2 772.5 1135.3 774.8 1137.7 C777.1 1140.1 779.4 1143.0 781.9 1145.8 C784.4 1148.7 787.1 1151.9 789.7 1155.0 C792.3 1158.1 795.0 1161.4 797.5 1164.5 C800.0 1167.6 802.4 1170.5 805.0 1173.6 C807.6 1176.6 810.2 1179.5 812.8 1182.7 C815.5 1185.9 818.3 1189.1 820.9 1192.5 C823.5 1195.9 826.0 1199.2 828.4 1203.0 C830.8 1206.8 832.9 1210.8 835.1 1215.5 C837.2 1220.2 839.2 1225.7 841.2 1231.1 C843.1 1236.5 844.9 1242.5 846.9 1248.1 C848.8 1253.7 850.8 1259.2 852.7 1264.7 C854.7 1270.2 856.6 1275.6 858.6 1280.8 C860.6 1286.0 862.4 1291.2 864.8 1295.9 C867.1 1300.6 869.6 1304.9 872.4 1309.0 C875.3 1313.0 878.1 1316.7 881.6 1320.0 C885.2 1323.4 888.9 1326.4 893.5 1329.0 C898.2 1331.6 903.8 1335.0 909.3 1335.5 C914.8 1336.0 920.7 1333.7 926.3 1332.2 C931.9 1330.7 937.1 1328.8 942.8 1326.5 C948.5 1324.3 954.1 1321.5 960.4 1318.7 C966.7 1315.9 973.7 1312.7 980.7 1309.8 C987.7 1306.9 995.3 1303.9 1002.3 1301.4 C1009.3 1298.9 1016.1 1297.0 1022.6 1294.7 C1029.0 1292.4 1034.8 1290.4 1041.2 1287.7 C1047.5 1285.1 1053.9 1281.7 1060.5 1278.8 C1067.2 1275.8 1073.8 1272.4 1080.9 1270.0 C1088.0 1267.7 1095.0 1266.0 1102.9 1264.8 C1110.8 1263.6 1119.5 1262.8 1128.2 1263.0 C1136.9 1263.2 1146.3 1265.1 1155.3 1266.2 C1164.3 1267.2 1174.0 1268.1 1182.3 1269.3 C1190.7 1270.6 1198.8 1271.9 1205.3 1273.5 C1211.7 1275.1 1216.1 1276.8 1221.1 1279.0 C1226.1 1281.1 1230.2 1283.3 1235.0 1286.4 C1239.8 1289.5 1245.0 1293.3 1250.0 1297.7 C1255.0 1302.0 1259.9 1307.3 1264.9 1312.7 C1269.9 1318.0 1274.9 1324.0 1279.9 1329.9 C1284.9 1335.7 1289.9 1342.0 1294.9 1347.8 C1299.9 1353.6 1304.9 1359.5 1309.9 1364.7 C1314.9 1369.9 1319.8 1374.6 1324.8 1378.9 C1329.8 1383.2 1334.8 1386.9 1339.8 1390.5 C1344.8 1394.2 1349.8 1397.3 1354.8 1400.6 C1359.8 1403.9 1364.8 1407.1 1369.8 1410.3 C1374.8 1413.6 1379.7 1416.8 1384.7 1420.1 C1389.7 1423.3 1394.7 1426.6 1399.7 1429.8 C1404.7 1433.0 1409.7 1436.2 1414.7 1439.2 C1419.7 1442.2 1424.7 1445.1 1429.7 1447.8 C1434.7 1450.6 1439.6 1453.2 1444.6 1455.7 C1449.6 1458.2 1454.6 1460.6 1459.6 1462.8 C1464.6 1465.0 1469.6 1467.2 1474.6 1469.1 C1479.6 1471.0 1484.6 1472.9 1489.6 1474.3 C1494.6 1475.8 1499.7 1477.0 1504.7 1478.1 C1509.7 1479.2 1513.8 1480.1 1519.4 1481.2 C1524.9 1482.3 1530.2 1483.5 1537.9 1484.7 C1545.7 1485.8 1555.7 1487.2 1565.9 1488.2 C1576.0 1489.2 1587.8 1490.1 1598.8 1490.9 C1609.8 1491.6 1620.8 1492.2 1631.8 1492.7 C1642.8 1493.3 1653.7 1493.8 1664.7 1494.2 C1675.7 1494.6 1686.7 1494.9 1697.7 1495.2 C1708.7 1495.5 1719.6 1495.7 1730.6 1496.0 C1741.6 1496.3 1753.0 1496.6 1763.6 1496.9 C1774.2 1497.2 1784.8 1497.4 1794.2 1497.7 C1803.7 1498.0 1816.0 1498.4 1820.4 1498.5" stroke="#0000FF"/><path d="M376.8 698.8 C379.5 687.7 389.2 648.8 393.1 632.3 C397.0 615.9 398.7 608.7 400.4 600.3 C402.0 592.0 402.1 588.5 403.0 582.2 C403.9 575.9 404.9 568.4 405.9 562.4 C406.9 556.4 407.9 551.3 408.8 546.0 C409.8 540.8 410.8 535.8 411.6 530.6 C412.5 525.5 413.4 520.3 414.2 515.2 C415.1 510.1 416.0 504.6 416.8 499.8 C417.6 495.0 418.2 490.2 418.9 486.4 C419.5 482.6 419.8 480.5 420.5 477.2 C421.2 473.9 422.1 470.7 422.9 466.5 C423.8 462.4 424.9 456.9 425.6 452.4 C426.3 448.0 426.7 443.9 427.3 440.1 C428.0 436.2 428.6 433.1 429.5 429.5 C430.4 425.9 431.7 422.1 432.8 418.6 C433.8 415.1 434.6 411.5 435.7 408.5 C436.9 405.4 438.1 402.6 439.8 400.5 C441.5 398.3 443.8 395.5 445.8 395.6 C447.8 395.7 450.0 398.6 451.8 401.0 C453.5 403.4 454.8 405.6 456.2 409.9 C457.6 414.1 458.6 419.3 460.1 426.5 C461.6 433.7 463.3 443.6 465.1 453.1 C466.8 462.6 468.8 473.8 470.6 483.6 C472.5 493.4 474.3 502.7 476.1 512.0 C477.8 521.2 479.6 530.0 481.2 539.0 C482.9 548.0 484.6 557.9 486.1 566.1 C487.5 574.3 488.9 581.9 490.0 588.1 C491.1 594.3 491.7 598.2 492.6 603.3 C493.5 608.4 494.2 612.5 495.3 618.5 C496.5 624.4 497.7 630.3 499.4 638.8 C501.2 647.3 503.4 658.0 506.0 669.3 C508.5 680.6 511.7 694.7 514.8 706.5 C517.8 718.3 521.1 729.9 524.2 740.3 C527.3 750.8 530.4 759.9 533.4 769.1 C536.3 778.3 539.2 787.4 542.0 795.8 C544.8 804.1 547.7 812.4 550.1 819.2 C552.6 826.1 554.6 831.5 556.7 837.2 C558.8 842.8 560.7 848.0 562.8 853.2 C564.8 858.5 567.1 864.2 568.8 868.7 C570.6 873.1 572.0 876.4 573.2 879.8 C574.5 883.1 575.5 885.5 576.6 888.7 C577.7 891.8 578.8 895.3 579.9 898.6 C581.0 901.9 582.1 905.3 583.2 908.6 C584.3 911.9 585.5 915.2 586.5 918.5 C587.6 921.8 588.5 925.1 589.5 928.5 C590.4 931.8 591.2 935.1 592.1 938.4 C593.0 941.7 594.0 945.0 594.9 948.3 C595.9 951.6 596.9 955.0 597.8 958.3 C598.7 961.6 599.6 964.9 600.5 968.2 C601.3 971.5 602.2 974.9 603.1 978.2 C604.0 981.5 605.0 984.8 605.9 988.1 C606.8 991.4 607.6 994.2 608.7 998.1 C609.8 1001.9 611.2 1006.6 612.7 1011.3 C614.1 1016.1 616.1 1021.9 617.5 1026.7 C619.0 1031.4 620.2 1035.3 621.4 1039.9 C622.5 1044.5 623.4 1049.1 624.6 1054.1 C625.7 1059.1 626.9 1064.6 628.2 1069.7 C629.6 1074.7 631.2 1079.8 632.7 1084.5 C634.2 1089.2 635.6 1093.9 636.9 1097.9 C638.3 1101.9 639.2 1105.0 640.8 1108.4 C642.4 1111.8 644.3 1115.1 646.6 1118.1 C649.0 1121.2 651.9 1124.3 654.8 1126.8 C657.6 1129.2 660.8 1132.0 663.9 1132.7 C667.0 1133.4 670.2 1132.0 673.3 1130.8 C676.5 1129.6 679.7 1127.9 682.8 1125.6 C685.9 1123.2 689.3 1119.8 691.9 1116.8 C694.6 1113.8 696.8 1110.3 698.6 1107.4 C700.3 1104.6 701.0 1102.1 702.4 1099.6 C703.7 1097.1 705.1 1094.6 706.9 1092.4 C708.7 1090.2 711.0 1088.0 713.2 1086.3 C715.4 1084.6 717.1 1082.1 720.0 1082.3 C722.9 1082.5 727.4 1085.7 730.6 1087.4 C733.9 1089.1 736.8 1091.0 739.6 1092.4 C742.4 1093.8 745.0 1095.1 747.7 1095.8 C750.5 1096.5 753.4 1096.5 756.2 1096.8 C759.0 1097.1 762.0 1096.7 764.6 1097.5 C767.3 1098.2 769.7 1099.3 772.1 1101.2 C774.5 1103.1 776.7 1106.1 779.2 1108.7 C781.7 1111.2 784.4 1114.1 787.0 1116.8 C789.6 1119.5 792.3 1122.0 795.1 1124.9 C797.9 1127.8 800.7 1131.0 803.5 1134.0 C806.4 1137.1 809.5 1139.9 812.4 1143.2 C815.2 1146.4 818.1 1149.9 820.5 1153.6 C822.8 1157.4 824.8 1162.0 826.5 1165.5 C828.2 1169.0 829.1 1171.8 830.4 1175.0 C831.8 1178.1 833.0 1180.5 834.7 1184.4 C836.4 1188.3 838.5 1193.2 840.6 1198.2 C842.7 1203.2 844.9 1209.0 847.1 1214.5 C849.2 1220.0 851.3 1225.5 853.5 1231.1 C855.6 1236.7 857.8 1242.5 860.1 1248.1 C862.4 1253.6 864.9 1259.2 867.3 1264.3 C869.8 1269.4 872.1 1274.1 874.8 1278.5 C877.4 1282.8 879.8 1286.7 883.2 1290.3 C886.6 1293.9 890.6 1297.2 895.1 1300.2 C899.6 1303.2 905.1 1307.4 910.3 1308.4 C915.5 1309.4 921.2 1307.4 926.6 1306.3 C932.0 1305.1 937.6 1303.2 942.8 1301.4 C948.0 1299.6 953.3 1297.0 957.6 1295.2 C961.8 1293.3 965.3 1291.7 968.3 1290.3 C971.3 1288.9 973.1 1287.8 975.6 1286.5 C978.0 1285.3 980.3 1284.2 982.8 1283.1 C985.4 1281.9 988.0 1280.8 991.0 1279.6 C993.9 1278.4 997.1 1277.1 1000.5 1275.8 C1003.9 1274.5 1007.4 1273.4 1011.2 1272.0 C1015.1 1270.6 1018.8 1268.9 1023.3 1267.1 C1027.8 1265.3 1033.1 1263.4 1038.5 1261.2 C1043.8 1258.9 1049.5 1256.4 1055.4 1253.5 C1061.4 1250.5 1067.6 1246.5 1074.1 1243.3 C1080.6 1240.2 1087.6 1237.1 1094.4 1234.7 C1101.2 1232.3 1107.7 1229.8 1114.7 1229.1 C1121.7 1228.4 1128.8 1229.8 1136.7 1230.3 C1144.6 1230.8 1153.6 1231.5 1162.0 1232.2 C1170.5 1232.9 1179.5 1233.4 1187.4 1234.6 C1195.3 1235.7 1202.6 1237.1 1209.4 1239.3 C1216.2 1241.5 1222.4 1244.5 1228.0 1247.7 C1233.6 1251.0 1238.4 1254.8 1243.2 1258.9 C1248.0 1263.0 1252.3 1267.6 1257.1 1272.6 C1261.9 1277.6 1266.9 1283.3 1271.8 1289.0 C1276.7 1294.6 1281.8 1300.6 1286.6 1306.3 C1291.4 1312.0 1296.0 1317.7 1300.6 1323.1 C1305.2 1328.5 1309.6 1333.7 1314.1 1338.6 C1318.6 1343.5 1323.1 1348.1 1327.6 1352.5 C1332.1 1356.8 1336.7 1360.8 1341.2 1364.7 C1345.7 1368.5 1350.2 1372.2 1354.7 1375.8 C1359.2 1379.4 1363.7 1382.9 1368.2 1386.3 C1372.7 1389.7 1377.3 1392.8 1381.8 1396.1 C1386.3 1399.4 1390.8 1402.7 1395.3 1405.9 C1399.8 1409.2 1404.3 1412.6 1408.8 1415.7 C1413.3 1418.8 1417.8 1421.7 1422.3 1424.5 C1426.8 1427.3 1431.4 1430.0 1435.9 1432.6 C1440.4 1435.2 1444.9 1438.0 1449.4 1440.4 C1453.9 1442.8 1458.4 1445.1 1462.9 1447.2 C1467.4 1449.2 1471.7 1451.0 1476.5 1452.9 C1481.3 1454.8 1485.9 1456.5 1491.6 1458.3 C1497.3 1460.1 1503.4 1462.0 1510.7 1463.8 C1518.0 1465.7 1526.2 1467.7 1535.4 1469.4 C1544.6 1471.2 1555.3 1472.8 1565.9 1474.4 C1576.4 1476.0 1587.8 1477.5 1598.8 1479.0 C1609.8 1480.4 1620.8 1482.0 1631.8 1483.2 C1642.8 1484.4 1653.7 1485.3 1664.7 1486.1 C1675.7 1487.0 1686.7 1487.5 1697.7 1488.1 C1708.7 1488.7 1719.6 1489.2 1730.6 1489.7 C1741.6 1490.2 1753.0 1490.6 1763.6 1491.0 C1774.2 1491.4 1784.8 1491.8 1794.2 1492.1 C1803.7 1492.4 1816.0 1492.8 1820.4 1492.9" stroke="#FF6000"/><path d="M376.8 670.3 C378.9 662.8 386.2 636.9 389.3 625.2 C392.4 613.6 393.9 607.5 395.5 600.3 C397.0 593.2 397.7 588.5 398.7 582.2 C399.8 575.9 400.8 568.4 401.6 562.4 C402.5 556.4 403.2 551.3 404.0 546.0 C404.8 540.8 405.7 535.8 406.5 530.6 C407.4 525.5 408.2 520.3 409.1 515.2 C409.9 510.1 410.9 504.6 411.6 499.8 C412.4 495.0 413.1 490.2 413.8 486.4 C414.5 482.6 415.1 480.3 415.7 477.2 C416.4 474.1 417.1 471.6 417.8 467.9 C418.4 464.2 419.2 459.4 419.9 455.2 C420.7 451.0 421.5 446.3 422.2 442.5 C422.9 438.6 423.5 435.7 424.2 432.1 C425.0 428.4 425.8 424.5 426.6 420.3 C427.3 416.1 428.2 411.2 429.0 406.6 C429.8 402.1 430.5 397.1 431.4 392.9 C432.3 388.7 433.3 384.7 434.4 381.3 C435.6 377.9 436.8 375.1 438.2 372.5 C439.6 369.9 441.4 367.6 443.1 366.0 C444.7 364.3 445.9 361.8 447.9 362.6 C449.9 363.4 452.8 367.1 455.0 370.8 C457.1 374.5 459.1 379.4 460.9 384.8 C462.7 390.2 464.3 396.4 466.0 403.1 C467.8 409.9 469.3 416.8 471.2 425.1 C473.0 433.4 475.1 443.3 477.1 453.1 C479.1 462.8 481.3 473.8 483.3 483.6 C485.4 493.4 487.2 503.0 489.3 512.0 C491.3 521.0 493.3 529.3 495.5 537.7 C497.7 546.0 500.1 554.3 502.3 562.0 C504.4 569.8 506.6 577.4 508.3 584.0 C510.0 590.7 511.3 596.5 512.7 601.9 C514.1 607.4 515.2 611.8 516.7 616.8 C518.1 621.8 519.5 626.1 521.5 632.1 C523.4 638.0 525.9 645.4 528.3 652.4 C530.7 659.5 533.5 667.1 536.1 674.4 C538.6 681.7 541.0 688.5 543.5 696.4 C546.1 704.3 548.7 713.0 551.3 721.8 C553.9 730.5 556.8 739.8 559.4 748.8 C562.0 757.8 564.7 767.2 567.2 775.9 C569.6 784.5 571.9 793.3 574.0 800.8 C576.1 808.3 577.9 814.9 579.6 820.9 C581.2 827.0 582.5 831.8 583.9 837.2 C585.3 842.6 586.5 848.0 587.8 853.2 C589.1 858.5 590.5 864.2 591.6 868.7 C592.7 873.1 593.6 876.4 594.4 879.8 C595.2 883.1 595.7 885.5 596.4 888.7 C597.0 891.8 597.7 895.3 598.4 898.6 C599.0 901.9 599.7 905.3 600.4 908.6 C601.0 911.9 601.7 915.2 602.4 918.5 C603.0 921.8 603.7 925.1 604.4 928.5 C605.1 931.8 605.9 935.1 606.7 938.4 C607.5 941.7 608.3 945.0 609.0 948.3 C609.7 951.6 610.3 955.0 611.0 958.3 C611.7 961.6 612.4 964.9 613.2 968.2 C613.9 971.5 614.7 974.7 615.7 978.2 C616.6 981.6 617.9 985.3 619.0 988.9 C620.1 992.5 621.4 996.3 622.4 999.6 C623.3 1002.9 624.0 1005.6 624.7 1008.8 C625.5 1011.9 626.0 1014.6 626.9 1018.6 C627.7 1022.5 628.7 1027.6 629.9 1032.5 C631.0 1037.4 632.2 1043.2 633.6 1048.0 C635.1 1052.9 636.7 1057.5 638.4 1061.6 C640.2 1065.6 642.2 1069.2 644.2 1072.4 C646.3 1075.6 648.4 1078.4 650.7 1080.8 C653.1 1083.2 655.6 1085.2 658.4 1086.9 C661.2 1088.6 664.6 1090.7 667.6 1090.9 C670.6 1091.1 673.8 1089.6 676.5 1088.3 C679.3 1087.1 681.9 1085.5 684.2 1083.5 C686.5 1081.5 688.4 1078.9 690.3 1076.3 C692.2 1073.6 694.0 1070.6 695.8 1067.6 C697.6 1064.6 699.4 1061.5 701.2 1058.5 C703.0 1055.6 704.8 1052.7 706.6 1050.0 C708.4 1047.4 710.3 1044.8 712.0 1042.8 C713.7 1040.7 715.4 1039.0 716.7 1037.9 C718.0 1036.7 717.4 1035.4 720.0 1035.7 C722.6 1036.0 728.7 1038.3 732.6 1039.6 C736.5 1040.9 740.0 1042.4 743.2 1043.5 C746.5 1044.6 749.6 1046.3 752.3 1046.1 C755.0 1045.9 756.9 1042.7 759.3 1042.6 C761.7 1042.5 764.1 1044.4 766.6 1045.7 C769.1 1046.9 771.8 1048.4 774.4 1050.2 C777.0 1052.0 779.6 1054.3 782.2 1056.5 C784.8 1058.7 787.5 1061.0 790.0 1063.6 C792.5 1066.2 794.9 1069.2 797.4 1072.1 C799.8 1075.0 802.2 1078.3 804.7 1081.2 C807.2 1084.0 810.0 1086.5 812.5 1089.2 C815.0 1091.9 817.5 1094.2 819.6 1097.4 C821.8 1100.6 823.7 1103.9 825.6 1108.3 C827.6 1112.7 829.3 1118.0 831.5 1123.9 C833.6 1129.9 836.0 1137.2 838.4 1144.1 C840.8 1151.1 843.5 1158.6 846.0 1165.8 C848.5 1173.0 851.0 1180.4 853.5 1187.4 C856.0 1194.4 858.5 1201.4 861.1 1207.7 C863.7 1214.0 866.2 1219.9 869.0 1225.3 C871.7 1230.7 874.5 1235.8 877.5 1240.1 C880.4 1244.5 883.4 1248.3 886.5 1251.5 C889.6 1254.6 892.8 1257.0 895.8 1259.0 C898.8 1261.0 901.7 1262.4 904.5 1263.6 C907.2 1264.8 909.7 1265.5 912.5 1266.3 C915.3 1267.1 918.5 1268.2 921.2 1268.4 C923.9 1268.6 926.1 1268.0 928.8 1267.7 C931.4 1267.4 934.2 1267.1 936.9 1266.6 C939.6 1266.0 942.3 1265.2 945.0 1264.4 C947.7 1263.6 950.4 1262.7 953.1 1261.7 C955.8 1260.7 958.2 1259.7 961.4 1258.5 C964.6 1257.2 968.0 1255.9 972.3 1254.2 C976.5 1252.4 981.9 1250.3 987.1 1248.0 C992.4 1245.6 998.1 1242.8 1003.7 1239.9 C1009.4 1237.0 1015.0 1234.2 1021.1 1230.8 C1027.2 1227.5 1033.7 1223.9 1040.3 1219.8 C1046.9 1215.7 1053.8 1210.9 1060.6 1206.1 C1067.4 1201.4 1074.1 1195.8 1080.9 1191.3 C1087.7 1186.7 1094.4 1182.2 1101.2 1178.8 C1108.0 1175.4 1114.7 1173.0 1121.5 1171.0 C1128.3 1169.0 1134.7 1167.8 1141.8 1166.7 C1148.8 1165.6 1155.8 1165.0 1163.7 1164.4 C1171.6 1163.7 1181.3 1162.5 1189.1 1162.9 C1196.9 1163.3 1204.2 1164.8 1210.8 1166.8 C1217.3 1168.7 1223.3 1171.6 1228.7 1174.7 C1234.1 1177.9 1238.5 1181.7 1243.2 1185.5 C1247.9 1189.4 1252.6 1193.8 1256.7 1197.7 C1260.7 1201.6 1264.3 1205.2 1267.5 1208.8 C1270.8 1212.4 1272.8 1215.0 1276.0 1219.2 C1279.3 1223.5 1283.1 1228.6 1287.1 1234.1 C1291.1 1239.6 1295.9 1246.5 1299.9 1252.3 C1303.9 1258.0 1307.4 1263.4 1311.1 1268.4 C1314.7 1273.5 1318.0 1277.7 1321.9 1282.4 C1325.8 1287.1 1330.1 1291.9 1334.4 1296.7 C1338.7 1301.4 1343.4 1306.3 1347.9 1310.9 C1352.4 1315.4 1357.0 1319.8 1361.5 1324.1 C1366.0 1328.4 1370.5 1332.5 1375.0 1336.6 C1379.5 1340.7 1384.0 1344.7 1388.5 1348.8 C1393.0 1352.8 1397.5 1356.9 1402.0 1360.9 C1406.5 1364.9 1411.1 1369.0 1415.6 1372.8 C1420.1 1376.5 1424.6 1380.1 1429.1 1383.6 C1433.6 1387.0 1438.1 1390.2 1442.6 1393.4 C1447.1 1396.6 1451.7 1399.8 1456.2 1402.9 C1460.7 1406.0 1465.2 1409.1 1469.7 1412.0 C1474.2 1414.9 1478.7 1417.8 1483.2 1420.5 C1487.7 1423.2 1491.8 1425.6 1496.7 1428.2 C1501.6 1430.9 1506.0 1433.2 1512.4 1436.2 C1518.9 1439.1 1526.5 1442.6 1535.4 1446.2 C1544.3 1449.7 1555.3 1454.0 1565.9 1457.4 C1576.4 1460.8 1587.8 1463.8 1598.8 1466.4 C1609.8 1469.1 1620.8 1471.1 1631.8 1473.0 C1642.8 1474.9 1652.4 1476.4 1664.7 1477.8 C1677.1 1479.1 1689.8 1480.1 1705.9 1481.1 C1722.0 1482.1 1742.2 1483.0 1761.3 1483.8 C1780.4 1484.6 1810.6 1485.5 1820.4 1485.8" stroke="#FFFF00"/><path d="M376.8 642.0 C378.1 638.0 382.4 625.1 384.3 618.1 C386.2 611.2 387.1 606.3 388.5 600.3 C389.9 594.3 391.3 588.5 392.6 582.2 C393.9 575.9 395.2 568.4 396.1 562.4 C397.1 556.4 397.5 551.3 398.3 546.0 C399.1 540.8 400.0 535.8 400.9 530.6 C401.7 525.5 402.6 520.3 403.4 515.2 C404.3 510.1 405.3 504.6 406.0 499.8 C406.7 495.0 407.2 490.2 407.8 486.4 C408.3 482.6 408.8 480.3 409.4 477.2 C410.0 474.1 410.8 471.8 411.6 467.9 C412.4 464.0 413.1 459.0 414.0 453.7 C414.9 448.4 416.1 441.3 417.1 436.0 C418.0 430.7 419.0 426.1 419.8 421.6 C420.6 417.2 421.0 413.9 421.7 409.3 C422.4 404.8 423.2 399.0 424.1 394.3 C425.0 389.5 426.2 385.0 427.1 380.8 C428.0 376.5 428.7 373.3 429.8 369.0 C430.9 364.7 432.2 359.6 433.9 355.0 C435.5 350.5 437.7 345.3 439.6 341.8 C441.5 338.2 443.5 335.5 445.2 333.8 C447.0 332.0 448.3 330.8 450.1 331.2 C451.9 331.6 454.3 333.5 456.3 335.9 C458.3 338.4 460.2 341.8 462.0 345.8 C463.8 349.8 465.5 354.9 467.1 360.1 C468.8 365.4 470.4 371.2 472.0 377.4 C473.6 383.7 475.1 390.3 476.9 397.8 C478.6 405.3 480.2 413.5 482.3 422.4 C484.3 431.3 486.9 441.8 489.3 451.1 C491.7 460.3 494.5 469.8 496.9 478.2 C499.3 486.5 501.3 493.5 503.7 501.2 C506.0 508.8 508.4 516.3 511.0 524.2 C513.6 532.1 516.5 540.6 519.1 548.5 C521.7 556.4 524.3 564.7 526.4 571.5 C528.5 578.4 530.1 584.2 531.6 589.5 C533.2 594.8 534.2 598.8 535.5 603.3 C536.9 607.8 538.0 612.0 539.5 616.8 C541.0 621.6 542.5 626.1 544.4 632.1 C546.3 638.0 548.7 645.1 551.0 652.4 C553.2 659.8 555.7 667.9 558.0 676.1 C560.3 684.3 562.5 692.7 564.8 701.5 C567.1 710.2 569.3 719.5 571.6 728.5 C573.8 737.5 576.1 746.6 578.3 755.6 C580.5 764.6 582.9 774.3 584.8 782.6 C586.6 790.9 588.2 798.9 589.6 805.5 C591.0 812.1 592.2 817.1 593.2 822.5 C594.2 827.9 595.1 833.0 595.9 837.6 C596.7 842.3 596.9 846.0 597.8 850.2 C598.7 854.5 600.0 857.9 601.3 863.0 C602.7 868.1 604.4 874.5 605.8 880.9 C607.2 887.3 608.5 894.4 609.9 901.2 C611.2 908.0 612.6 914.7 613.9 921.5 C615.3 928.3 616.6 935.0 618.0 941.8 C619.4 948.5 620.9 955.3 622.4 962.0 C623.8 968.8 625.3 975.8 626.5 982.3 C627.8 988.8 628.7 995.4 629.9 1001.0 C631.0 1006.5 632.2 1011.2 633.5 1015.6 C634.9 1019.9 636.4 1023.3 638.0 1027.1 C639.6 1030.8 641.2 1034.5 643.0 1037.9 C644.8 1041.3 646.7 1044.9 648.8 1047.8 C650.9 1050.6 653.2 1053.0 655.6 1054.8 C658.0 1056.5 660.6 1057.5 663.0 1058.3 C665.5 1059.1 668.0 1059.8 670.3 1059.5 C672.6 1059.2 674.7 1057.9 676.9 1056.6 C679.2 1055.2 681.5 1053.5 683.7 1051.4 C685.9 1049.3 688.1 1046.7 690.1 1044.1 C692.1 1041.5 693.9 1038.6 695.8 1035.7 C697.6 1032.9 699.4 1029.9 701.2 1026.9 C703.0 1024.0 704.8 1021.0 706.6 1018.1 C708.4 1015.3 710.1 1012.6 712.0 1010.0 C713.9 1007.4 715.8 1005.0 717.9 1002.5 C720.0 1000.0 722.0 995.9 724.6 995.0 C727.2 994.1 730.4 996.4 733.3 997.4 C736.2 998.4 739.6 1001.2 741.9 1001.1 C744.2 1001.0 745.8 998.9 747.4 997.0 C749.0 995.2 749.8 990.5 751.5 990.0 C753.2 989.5 755.0 993.7 757.5 994.2 C760.0 994.8 763.7 992.8 766.2 993.3 C768.7 993.8 770.6 995.6 772.5 997.2 C774.3 998.8 775.7 1001.1 777.4 1003.1 C779.2 1005.0 780.7 1007.0 782.9 1008.9 C785.0 1010.8 787.9 1012.5 790.4 1014.8 C793.0 1017.0 795.8 1019.7 798.2 1022.3 C800.7 1025.0 802.8 1028.0 805.1 1030.8 C807.5 1033.5 810.1 1036.2 812.5 1039.1 C814.9 1042.0 817.5 1045.3 819.5 1048.3 C821.6 1051.4 823.3 1054.6 824.7 1057.3 C826.1 1060.0 827.0 1061.9 828.0 1064.5 C828.9 1067.1 829.5 1069.8 830.5 1072.7 C831.6 1075.6 833.1 1079.2 834.3 1082.0 C835.5 1084.8 836.9 1086.9 837.9 1089.6 C838.9 1092.3 839.5 1094.8 840.5 1098.2 C841.5 1101.6 843.4 1109.3 844.0 1110.0 C844.6 1110.7 843.0 1099.7 844.1 1102.4 C845.2 1105.1 848.3 1118.9 850.4 1126.1 C852.5 1133.4 854.6 1139.7 856.8 1146.0 C859.0 1152.3 861.3 1158.2 863.6 1163.9 C865.9 1169.6 868.3 1175.4 870.6 1180.4 C873.0 1185.3 875.2 1189.6 877.6 1193.6 C880.1 1197.6 882.5 1201.0 885.2 1204.5 C887.9 1207.9 890.8 1211.1 894.1 1214.2 C897.4 1217.3 901.0 1220.3 905.0 1222.8 C908.9 1225.4 913.2 1227.8 917.7 1229.6 C922.1 1231.4 927.1 1233.6 931.5 1233.9 C935.9 1234.2 940.0 1232.5 944.2 1231.5 C948.4 1230.5 952.5 1229.5 956.7 1228.0 C960.9 1226.5 965.1 1224.6 969.4 1222.5 C973.6 1220.5 978.0 1218.1 982.3 1215.8 C986.6 1213.5 991.0 1211.1 995.3 1208.8 C999.6 1206.4 1003.6 1204.2 1008.0 1201.8 C1012.4 1199.3 1016.8 1196.8 1021.8 1193.9 C1026.8 1190.9 1032.9 1187.3 1037.9 1184.0 C1042.9 1180.7 1047.9 1177.0 1051.8 1174.1 C1055.7 1171.2 1058.2 1169.0 1061.3 1166.4 C1064.4 1163.8 1066.8 1161.7 1070.4 1158.6 C1074.1 1155.4 1078.1 1151.4 1083.3 1147.4 C1088.4 1143.4 1094.8 1138.2 1101.2 1134.3 C1107.6 1130.4 1114.7 1126.8 1121.5 1124.2 C1128.3 1121.5 1135.0 1119.9 1141.8 1118.2 C1148.5 1116.6 1155.3 1115.5 1162.0 1114.4 C1168.8 1113.3 1175.5 1112.4 1182.3 1111.7 C1189.1 1111.0 1197.0 1110.0 1202.6 1110.3 C1208.2 1110.6 1211.7 1111.9 1216.2 1113.5 C1220.7 1115.1 1225.1 1117.1 1229.7 1120.1 C1234.3 1123.1 1238.9 1127.0 1243.5 1131.6 C1248.1 1136.1 1252.9 1142.0 1257.3 1147.2 C1261.7 1152.5 1265.8 1157.9 1269.9 1162.9 C1274.0 1167.9 1277.7 1172.1 1281.8 1177.2 C1285.8 1182.3 1289.9 1187.8 1294.1 1193.5 C1298.4 1199.2 1302.9 1205.6 1307.3 1211.4 C1311.8 1217.3 1316.4 1223.0 1320.9 1228.7 C1325.4 1234.3 1330.2 1240.1 1334.4 1245.2 C1338.6 1250.3 1342.8 1255.2 1346.2 1259.4 C1349.6 1263.5 1351.9 1266.6 1354.7 1270.2 C1357.5 1273.7 1359.8 1276.8 1363.2 1280.7 C1366.6 1284.6 1370.8 1289.1 1375.0 1293.6 C1379.2 1298.2 1384.0 1303.2 1388.5 1307.8 C1393.0 1312.5 1397.5 1317.0 1402.0 1321.4 C1406.5 1325.8 1411.1 1329.9 1415.6 1334.2 C1420.1 1338.5 1424.6 1342.8 1429.1 1347.1 C1433.6 1351.4 1438.1 1355.7 1442.6 1359.9 C1447.1 1364.1 1451.7 1368.5 1456.2 1372.4 C1460.7 1376.4 1465.2 1380.1 1469.7 1383.6 C1474.2 1387.1 1478.7 1390.2 1483.2 1393.4 C1487.7 1396.6 1491.8 1399.4 1496.7 1402.6 C1501.6 1405.7 1506.0 1408.8 1512.4 1412.5 C1518.9 1416.3 1526.5 1420.7 1535.4 1424.9 C1544.3 1429.2 1555.3 1433.9 1565.9 1438.0 C1576.4 1442.0 1587.8 1445.8 1598.8 1449.1 C1609.8 1452.4 1620.8 1455.2 1631.8 1457.8 C1642.8 1460.3 1653.7 1462.3 1664.7 1464.3 C1675.7 1466.3 1686.7 1468.0 1697.7 1469.7 C1708.7 1471.3 1719.6 1472.9 1730.6 1474.2 C1741.6 1475.5 1753.0 1476.7 1763.6 1477.7 C1774.2 1478.7 1784.8 1479.4 1794.2 1480.0 C1803.7 1480.6 1816.0 1481.0 1820.4 1481.2" stroke="#C000C0"/></g>
<g fill="#000"><circle cx="458.2" cy="250.6" r="7.3"/><circle cx="476.6" cy="287.9" r="7.3"/><circle cx="428.4" cy="323.1" r="7.3"/><circle cx="492.3" cy="327.9" r="7.3"/><circle cx="420.3" cy="365.3" r="7.3"/><circle cx="509.1" cy="366.9" r="7.3"/><circle cx="412.7" cy="407.0" r="7.3"/><circle cx="524.8" cy="407.0" r="7.3"/><circle cx="404.6" cy="449.8" r="7.3"/><circle cx="398.1" cy="492.5" r="7.3"/><circle cx="389.5" cy="534.7" r="7.3"/><circle cx="376.5" cy="572.6" r="7.3"/><circle cx="537.7" cy="447.6" r="7.3"/><circle cx="549.1" cy="488.7" r="7.3"/><circle cx="558.3" cy="530.4" r="7.3"/><circle cx="566.4" cy="572.6" r="7.3"/><circle cx="576.3" cy="614.6" r="7.3"/><circle cx="584.8" cy="656.5" r="7.3"/><circle cx="592.5" cy="698.8" r="7.3"/><circle cx="599.3" cy="741.4" r="7.3"/><circle cx="607.4" cy="783.7" r="7.3"/><circle cx="614.2" cy="825.9" r="7.3"/><circle cx="622.5" cy="868.4" r="7.3"/><circle cx="631.2" cy="910.4" r="7.3"/><circle cx="643.4" cy="951.0" r="7.3"/><circle cx="669.4" cy="981.4" r="7.3"/><circle cx="697.1" cy="951.2" r="7.3"/><circle cx="717.0" cy="914.0" r="7.3"/><circle cx="831.1" cy="966.0" r="7.3"/><circle cx="844.5" cy="1006.7" r="7.3"/><circle cx="890.9" cy="1125.2" r="7.3"/><circle cx="921.5" cy="1153.6" r="7.3"/><circle cx="962.0" cy="1152.6" r="7.3"/><circle cx="998.8" cy="1133.3" r="7.3"/><circle cx="1032.2" cy="1108.3" r="7.3"/><circle cx="1061.3" cy="1077.8" r="7.3"/><circle cx="1089.0" cy="1045.4" r="7.3"/><circle cx="1121.5" cy="1019.3" r="7.3"/><circle cx="1159.7" cy="1002.5" r="7.3"/><circle cx="1199.9" cy="992.6" r="7.3"/><circle cx="1238.5" cy="1008.2" r="7.3"/><circle cx="1266.2" cy="1039.3" r="7.3"/><circle cx="1290.4" cy="1075.5" r="7.3"/><circle cx="1313.4" cy="1111.3" r="7.3"/><circle cx="1337.1" cy="1146.5" r="7.3"/><circle cx="1361.5" cy="1181.0" r="7.3"/><circle cx="1387.2" cy="1214.8" r="7.3"/><circle cx="1412.2" cy="1248.0" r="7.3"/><circle cx="1437.9" cy="1281.8" r="7.3"/><circle cx="1465.0" cy="1312.9" r="7.3"/><circle cx="1494.7" cy="1342.7" r="7.3"/><circle cx="1527.2" cy="1367.9" r="7.3"/><circle cx="1561.8" cy="1389.8" r="7.3"/><circle cx="1599.3" cy="1407.1" r="7.3"/><circle cx="1639.2" cy="1421.6" r="7.3"/><circle cx="1680.1" cy="1432.8" r="7.3"/><circle cx="1721.6" cy="1440.9" r="7.3"/><circle cx="1762.8" cy="1446.6" r="7.3"/><circle cx="1805.3" cy="1451.2" r="7.3"/><circle cx="748.7" cy="896.8" r="7.3"/><circle cx="761.7" cy="887.7" r="7.3"/><circle cx="787.1" cy="900.9" r="7.3"/><circle cx="811.8" cy="931.0" r="7.3"/><circle cx="858.0" cy="1047.5" r="7.3"/><circle cx="871.3" cy="1087.7" r="7.3"/><circle cx="439.5" cy="281.4" r="7.3"/><circle cx="377.0" cy="573.4" r="7.3"/></g>
<g fill="none" stroke-width="6.6" stroke-linejoin="round" stroke-linecap="butt"><path d="M376.8 761.0 C377.9 759.5 381.2 755.8 383.5 752.2 C385.8 748.6 388.1 744.9 390.6 739.7 C393.1 734.4 395.8 727.7 398.4 720.8 C401.0 713.8 403.7 705.6 406.5 697.8 C409.3 689.9 412.1 681.8 415.0 673.4 C417.8 665.0 420.5 655.8 423.4 647.2 C426.2 638.7 429.5 629.2 432.1 621.8 C434.7 614.5 437.3 608.5 439.0 603.3 C440.8 598.1 441.0 595.2 442.7 590.8 C444.4 586.4 446.4 581.7 449.3 576.9 C452.1 572.1 456.1 566.3 459.8 562.1 C463.5 557.8 467.3 554.2 471.4 551.2 C475.6 548.3 480.3 544.9 484.7 544.5 C489.1 544.1 493.4 547.0 497.7 549.1 C502.0 551.1 506.5 553.7 510.7 556.9 C514.9 560.1 519.0 564.0 522.6 568.3 C526.2 572.6 529.4 577.3 532.3 582.6 C535.3 587.9 538.1 594.2 540.5 599.9 C542.8 605.5 544.6 610.8 546.5 616.4 C548.3 622.1 549.5 626.6 551.7 633.8 C553.8 640.9 556.6 650.2 559.4 659.2 C562.2 668.2 565.5 678.6 568.2 687.9 C570.9 697.2 573.3 706.0 575.6 715.0 C578.0 724.0 580.2 733.0 582.4 742.0 C584.6 751.0 586.9 760.1 588.9 769.1 C590.8 778.1 592.6 787.3 594.1 795.8 C595.7 804.2 597.0 812.9 598.2 819.9 C599.3 827.0 600.3 833.0 601.1 838.0 C602.0 843.1 602.5 846.1 603.2 850.2 C604.0 854.4 604.7 857.8 605.6 862.8 C606.6 867.8 607.7 873.9 608.9 880.0 C610.1 886.1 611.7 893.0 613.1 899.5 C614.5 906.0 615.9 912.5 617.3 919.0 C618.7 925.5 619.9 931.9 621.4 938.4 C622.8 944.9 624.2 951.3 625.7 957.9 C627.2 964.5 628.8 971.6 630.2 978.2 C631.7 984.7 633.1 991.6 634.4 997.0 C635.6 1002.5 636.8 1006.8 638.0 1010.8 C639.2 1014.8 640.4 1017.8 641.8 1021.0 C643.1 1024.1 644.5 1027.0 646.0 1029.8 C647.4 1032.5 648.9 1035.2 650.5 1037.5 C652.0 1039.8 653.5 1042.0 655.5 1043.9 C657.4 1045.7 659.4 1047.1 661.9 1048.4 C664.4 1049.8 667.8 1051.8 670.3 1051.9 C672.8 1052.0 674.7 1050.5 676.8 1049.2 C678.9 1047.9 681.1 1046.2 683.2 1044.2 C685.2 1042.2 687.3 1039.8 689.1 1037.2 C691.0 1034.7 692.8 1031.8 694.4 1029.0 C696.0 1026.2 697.4 1023.3 698.9 1020.6 C700.3 1017.8 701.6 1015.3 703.1 1012.4 C704.5 1009.6 706.0 1006.8 707.4 1003.6 C708.9 1000.4 710.8 993.9 711.6 993.3 C712.4 992.7 710.7 1000.6 712.0 1000.0 C713.3 999.4 716.8 992.1 719.5 989.5 C722.3 987.0 725.7 985.7 728.8 984.5 C731.8 983.4 735.1 983.5 737.9 982.7 C740.6 981.9 742.9 981.0 745.0 979.7 C747.1 978.5 748.5 975.6 750.6 975.1 C752.7 974.6 755.0 977.7 757.5 976.8 C760.0 975.9 762.9 969.6 765.3 969.9 C767.7 970.2 769.3 975.9 771.8 978.5 C774.3 981.2 777.5 983.2 780.5 985.7 C783.5 988.2 786.7 990.5 789.8 993.3 C792.9 996.1 796.0 999.4 799.3 1002.6 C802.6 1005.8 806.2 1009.0 809.5 1012.5 C812.8 1015.9 816.2 1019.4 819.0 1023.2 C821.8 1027.0 824.2 1031.5 826.2 1035.5 C828.2 1039.4 829.6 1043.7 830.9 1047.0 C832.2 1050.3 832.9 1052.5 834.0 1055.2 C835.1 1058.0 836.1 1060.0 837.4 1063.2 C838.7 1066.4 840.3 1070.4 841.8 1074.4 C843.2 1078.4 844.7 1083.2 846.0 1087.4 C847.3 1091.6 848.5 1095.7 849.6 1099.6 C850.7 1103.4 851.5 1106.7 852.7 1110.7 C853.8 1114.7 854.8 1118.8 856.2 1123.4 C857.7 1128.1 859.5 1133.5 861.4 1138.7 C863.3 1144.0 865.4 1149.6 867.6 1154.9 C869.8 1160.2 872.0 1165.7 874.4 1170.6 C876.8 1175.5 879.2 1180.2 882.0 1184.4 C884.7 1188.7 887.7 1192.5 891.2 1196.1 C894.6 1199.7 898.5 1203.2 902.5 1206.1 C906.5 1209.0 910.9 1211.6 915.2 1213.7 C919.5 1215.8 924.2 1218.3 928.2 1218.8 C932.2 1219.3 935.3 1217.9 939.0 1216.9 C942.7 1215.9 946.5 1214.5 950.4 1212.6 C954.4 1210.7 958.5 1208.1 962.6 1205.5 C966.7 1202.9 971.0 1199.8 975.0 1196.8 C979.1 1193.9 983.3 1190.9 987.2 1187.9 C991.1 1185.0 994.9 1182.2 998.6 1179.3 C1002.3 1176.3 1005.7 1173.5 1009.4 1170.3 C1013.0 1167.2 1016.7 1164.2 1020.7 1160.2 C1024.8 1156.3 1029.1 1152.0 1033.5 1146.9 C1037.9 1141.8 1042.6 1135.6 1047.1 1129.7 C1051.6 1123.8 1056.1 1117.4 1060.6 1111.3 C1065.1 1105.3 1069.6 1099.2 1074.1 1093.4 C1078.6 1087.6 1083.1 1081.8 1087.6 1076.5 C1092.1 1071.2 1096.7 1066.1 1101.2 1061.6 C1105.7 1057.1 1110.2 1053.1 1114.7 1049.5 C1119.2 1045.8 1123.7 1042.6 1128.2 1039.6 C1132.7 1036.7 1137.3 1034.0 1141.8 1031.5 C1146.3 1029.0 1150.8 1026.8 1155.3 1024.8 C1159.8 1022.7 1164.3 1021.0 1168.8 1019.3 C1173.3 1017.7 1177.8 1016.2 1182.3 1014.9 C1186.8 1013.6 1191.4 1012.5 1195.9 1011.5 C1200.4 1010.6 1204.9 1009.2 1209.4 1009.5 C1213.9 1009.8 1218.5 1011.6 1222.9 1013.2 C1227.3 1014.9 1231.8 1016.9 1235.8 1019.3 C1239.8 1021.8 1243.3 1024.5 1247.0 1027.8 C1250.6 1031.1 1254.2 1035.3 1257.7 1039.3 C1261.1 1043.2 1264.5 1047.4 1267.5 1051.4 C1270.6 1055.3 1272.8 1058.3 1276.0 1063.0 C1279.2 1067.7 1282.9 1073.3 1286.9 1079.5 C1290.9 1085.7 1295.7 1093.2 1300.2 1100.2 C1304.8 1107.1 1309.4 1114.2 1313.9 1121.2 C1318.5 1128.1 1323.1 1135.0 1327.6 1141.8 C1332.2 1148.6 1336.7 1155.4 1341.2 1162.0 C1345.7 1168.7 1350.2 1175.4 1354.7 1181.6 C1359.2 1187.9 1363.8 1193.5 1368.2 1199.6 C1372.6 1205.7 1376.8 1211.6 1381.0 1218.1 C1385.2 1224.6 1389.0 1231.9 1393.3 1238.5 C1397.7 1245.2 1402.4 1251.7 1407.2 1258.0 C1412.0 1264.3 1417.2 1270.1 1422.2 1276.3 C1427.2 1282.5 1432.2 1288.8 1437.2 1295.0 C1442.2 1301.3 1447.1 1307.7 1452.1 1313.8 C1457.1 1319.9 1462.1 1326.1 1467.1 1331.8 C1472.1 1337.4 1477.1 1342.8 1482.1 1347.8 C1487.1 1352.9 1492.5 1357.8 1497.1 1362.0 C1501.7 1366.3 1505.6 1369.7 1509.8 1373.3 C1514.1 1377.0 1517.1 1379.8 1522.4 1384.0 C1527.7 1388.2 1534.0 1393.2 1541.6 1398.4 C1549.2 1403.6 1558.4 1409.7 1568.0 1415.0 C1577.5 1420.2 1588.2 1425.6 1598.8 1430.2 C1609.5 1434.8 1620.8 1438.8 1631.8 1442.5 C1642.8 1446.3 1653.7 1449.7 1664.7 1452.8 C1675.7 1456.0 1686.7 1459.0 1697.7 1461.5 C1708.7 1464.0 1719.6 1466.1 1730.6 1467.9 C1741.6 1469.7 1753.0 1471.1 1763.6 1472.2 C1774.2 1473.4 1784.8 1474.2 1794.2 1475.0 C1803.7 1475.8 1816.0 1476.6 1820.4 1476.9" stroke="#40F2B0"/></g>
<text x="1460" y="148.9" font-size="90">[Iodine] (<tspan font-family="Noto Serif CJK SC, Liberation Serif, serif" font-weight="normal" font-size="84" dx="-3.5">μ</tspan><tspan dx="4.8">M</tspan><tspan dx="4">)</tspan></text>
<g font-size="91"><rect x="1486.0" y="223.8" width="154.2" height="7.3" fill="#000000"/><text transform="translate(1726.5 259.5) scale(0.99 1)">0</text><rect x="1486.0" y="324.9" width="154.2" height="7.3" fill="#A00000"/><text transform="translate(1727.5 360.7) scale(0.99 1)">10</text><rect x="1486.0" y="433.2" width="154.2" height="7.3" fill="#00C000"/><text transform="translate(1726.5 469.3) scale(0.99 1)">20</text><rect x="1486.0" y="541.5" width="154.2" height="7.3" fill="#0000FF"/><text transform="translate(1726.5 577.6) scale(0.99 1)">40</text><rect x="1486.0" y="649.6" width="154.2" height="7.3" fill="#FF6000"/><text transform="translate(1726.5 686.3) scale(0.99 1)">80</text><rect x="1486.0" y="750.9" width="154.2" height="7.3" fill="#FFFF00"/><text transform="translate(1727.5 786.6) scale(0.99 1)">160</text><rect x="1493.2" y="859.1" width="154.3" height="7.3" fill="#C000C0"/><text transform="translate(1733.5 894.8) scale(0.99 1)">240</text><clipPath id="lc"><rect x="1500" y="970" width="160" height="30"/></clipPath><g clip-path="url(#lc)"><circle cx="1500.5" cy="985.3" r="7.3"/><circle cx="1543.9" cy="985.3" r="7.3"/><circle cx="1587.0" cy="985.3" r="7.3"/><circle cx="1630.4" cy="985.3" r="7.3"/></g><text transform="translate(1742.5 1017.9) scale(0.99 1)">320</text><rect x="1493.2" y="1083.0" width="154.3" height="7.3" fill="#40F2B0"/><text transform="translate(1734.0 1118.9) scale(0.99 1)">400</text></g>
</svg>
</body></html>
